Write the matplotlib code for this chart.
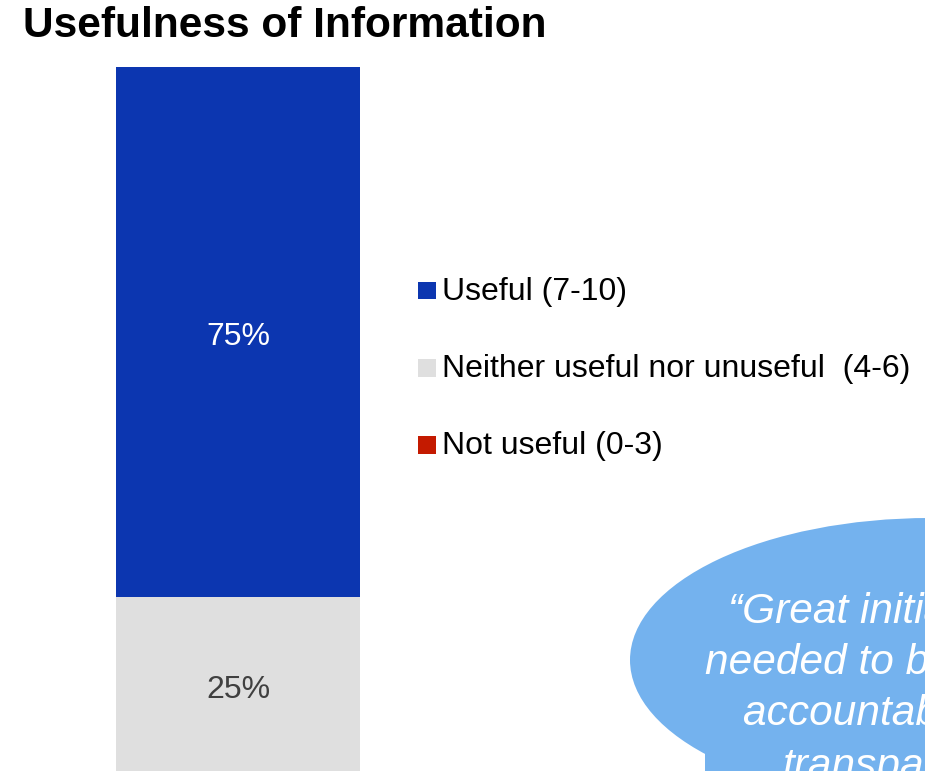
import matplotlib
matplotlib.use("Agg")
import matplotlib.pyplot as plt
from matplotlib.patches import Rectangle, Ellipse, Polygon

plt.rcParams['font.family'] = ['Liberation Sans', 'DejaVu Sans']

# Survey result: share of respondents per usefulness rating band
categories = ["Useful (7-10)", "Neither useful nor unuseful  (4-6)", "Not useful (0-3)"]
shares = [75, 25, 0]
colors = ["#0C36B0", "#DFDFDF", "#C41A00"]
label_colors = ["white", "#404040", "white"]

title = "Usefulness of Information"
quote_lines = ["\u201cGreat initiative,", "needed to bring", "accountability and", "transparency\u201d"]

W, H = 925, 771
fig = plt.figure(figsize=(W / 100, H / 100), dpi=100)


def fx(px):
    return px / W


def fy(py):
    # pixel row measured from the top -> figure fraction from the bottom
    return 1 - py / H


# Title
fig.text(fx(23), fy(37), title, fontsize=30.6, fontweight="bold",
         va="baseline", ha="left", color="black")

# Stacked single bar (stacked bottom-up: Not useful, Neither, Useful)
ax = fig.add_axes([fx(116), fy(773.7), fx(244), 706.7 / H])
bottom = 0
for cat, val, col, lcol in zip(categories[::-1], shares[::-1], colors[::-1], label_colors[::-1]):
    ax.bar(0, val, width=1, bottom=bottom, color=col, edgecolor="none")
    if val > 0:
        ax.annotate(f"{val}%", xy=(0, bottom + val / 2), xytext=(0, -9.4),
                    textcoords="offset points", ha="center", va="baseline",
                    fontsize=23, color=lcol)
    bottom += val
ax.set_xlim(-0.5, 0.5)
ax.set_ylim(0, 100)
ax.axis("off")

# Legend: coloured squares with labels
baselines = [300, 377, 454]
for cat, col, base in zip(categories, colors, baselines):
    fig.patches.append(Rectangle((fx(418), fy(base - 0.5)), fx(18), 17.5 / H,
                                 transform=fig.transFigure, facecolor=col,
                                 edgecolor="none"))
    fig.text(fx(442.5), fy(base), cat, fontsize=23, va="baseline", ha="left",
             color="black")

# Speech bubble with a quote
bubble_color = "#74B2EE"
fig.patches.append(Ellipse((fx(930), fy(660)), fx(600), 284 / H,
                           transform=fig.transFigure, facecolor=bubble_color,
                           edgecolor="none", zorder=1))
fig.patches.append(Polygon([(fx(705), fy(745)), (fx(705), fy(800)), (fx(800), fy(780))],
                           closed=True, transform=fig.transFigure,
                           facecolor=bubble_color, edgecolor="none", zorder=1))
quote_x = [728, 705, 743, 782]
quote_base = [623, 674, 725, 778]
for line, x0, b0 in zip(quote_lines, quote_x, quote_base):
    fig.text(fx(x0), fy(b0), line, fontsize=30.5, style="italic", color="white",
             ha="left", va="baseline", zorder=2)

fig.savefig("out.png", dpi=100)
